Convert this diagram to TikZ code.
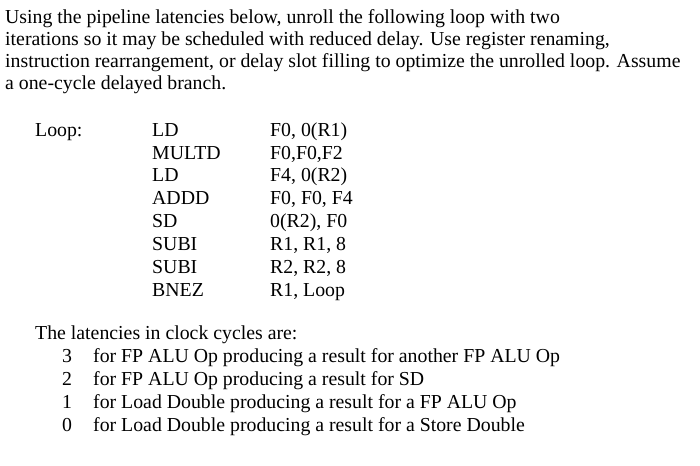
\documentclass[tikz,border=0pt]{standalone}
\usepackage{fontspec}
\setmainfont{Liberation Serif}
\begin{document}
\begin{tikzpicture}[x=1pt,y=-1pt,t/.style={anchor=base west,inner sep=0pt,font=\fontsize{19.8}{22}\selectfont}]
\useasboundingbox (0,0) rectangle (700,465);
\node[t] (p1) at (5,24) {Using the pipeline latencies below, unroll the following loop with two};
\node[t] (p2) at (5,46) {iterations so it may be scheduled with reduced delay. Use register renaming,};
\node[t] (p3) at (5,68) {instruction rearrangement, or delay slot filling to optimize the unrolled loop. Assume};
\node[t] (p4) at (5,90) {a one-cycle delayed branch.};
\node[t] (lp) at (35,136) {Loop:};
\foreach \i/\op/\arg [count=\k] in {136/LD/{F0, 0(R1)},159/MULTD/{F0,F0,F2},181/LD/{F4, 0(R2)},204/ADDD/{F0, F0, F4},227/SD/{0(R2), F0},250/SUBI/{R1, R1, 8},273/SUBI/{R2, R2, 8},296/BNEZ/{R1, Loop}}{
  \node[t] (op\k) at (152,\i) {\op};
  \node[t] (ar\k) at (270,\i) {\arg};
}
\node[t] (lt) at (35,339) {The latencies in clock cycles are:};
\foreach \y/\n/\s [count=\k] in {362/3/{for FP ALU Op producing a result for another FP ALU Op},385/2/{for FP ALU Op producing a result for SD},408/1/{for Load Double producing a result for a FP ALU Op},431/0/{for Load Double producing a result for a Store Double}}{
  \node[t] (n\k) at (62,\y) {\n};
  \node[t] (s\k) at (93,\y) {\s};
}
\end{tikzpicture}
\end{document}
